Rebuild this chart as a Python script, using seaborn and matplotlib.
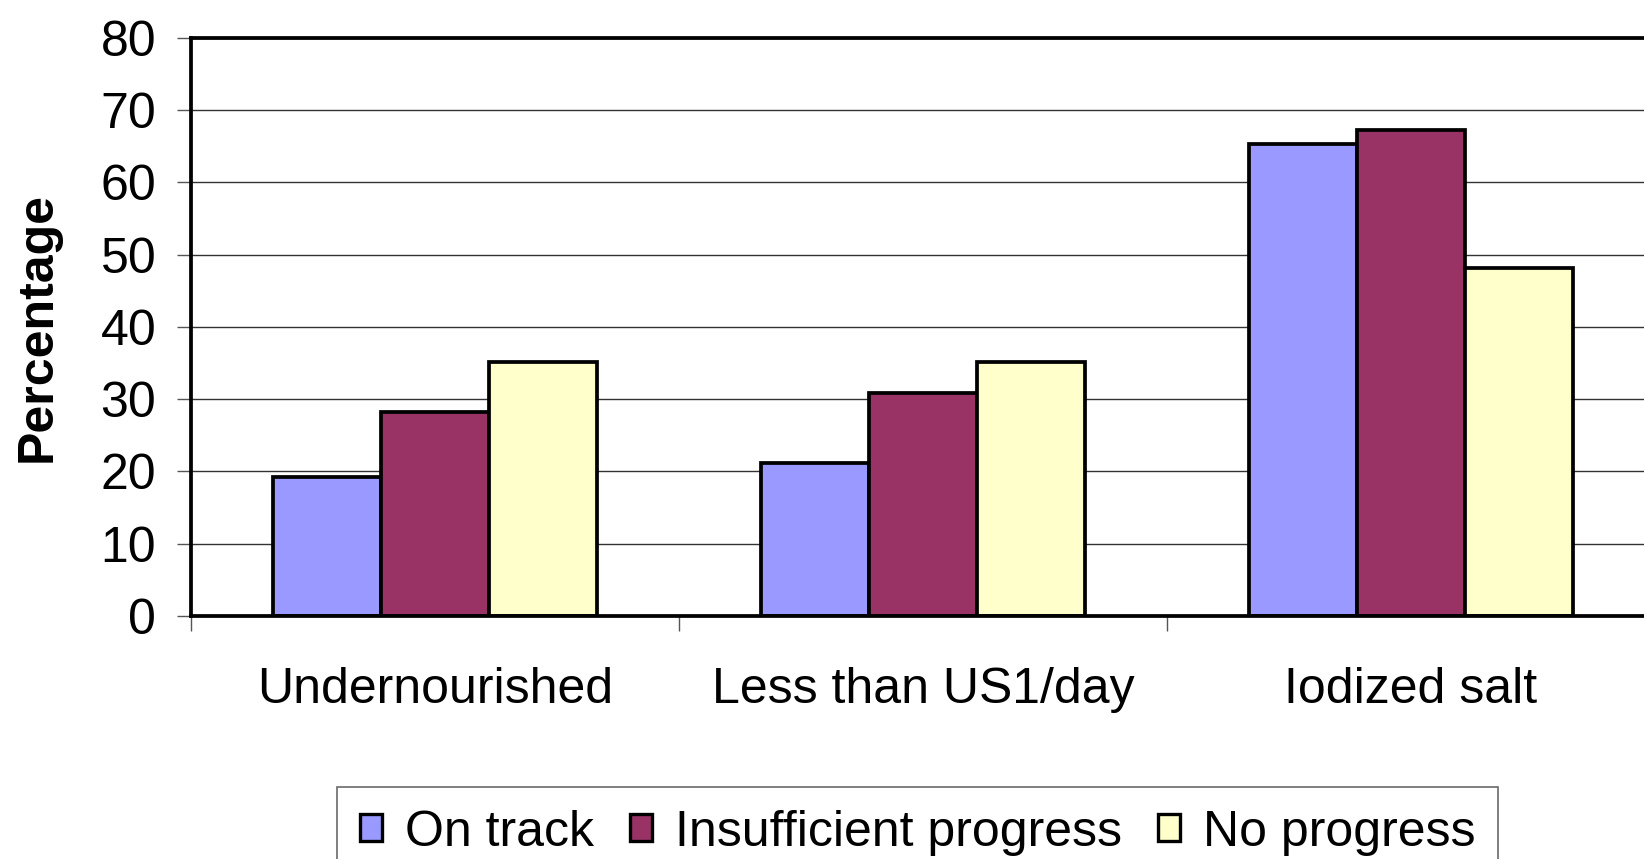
import numpy as np
import pandas as pd
import matplotlib
matplotlib.use('Agg')
import matplotlib.pyplot as plt
import seaborn as sns
from matplotlib.patches import Patch

categories = ['Undernourished', 'Less than US1/day', 'Iodized salt']
series = ['On track', 'Insufficient progress', 'No progress']
on_track = [19.2, 21.2, 65.3]
insufficient = [28.2, 30.8, 67.2]
no_progress = [35.1, 35.1, 48.1]
colors = ['#9999FF', '#993366', '#FFFFCC']
yticks = [0, 10, 20, 30, 40, 50, 60, 70, 80]

if __name__ == "__main__":

    rows = []
    for s, vals in zip(series, [on_track, insufficient, no_progress]):
        for c, v in zip(categories, vals):
            rows.append({'category': c, 'series': s, 'value': v})
    df = pd.DataFrame(rows)

    sns.set_style('white')
    plt.rcParams['font.family'] = ['Liberation Sans', 'DejaVu Sans']
    plt.rcParams['text.color'] = 'black'
    plt.rcParams['xtick.color'] = 'black'
    plt.rcParams['ytick.color'] = 'black'
    plt.rcParams['axes.labelcolor'] = 'black'

    fig = plt.figure(figsize=(16.44, 8.59), dpi=100)
    ax = fig.add_axes([0.1162, 0.2829, 0.8905, 0.6729])

    sns.barplot(x='category', y='value', hue='series', data=df, order=categories,
                hue_order=series, palette=colors, width=0.665, gap=0,
                edgecolor='black', linewidth=2.7, saturation=1, legend=False, ax=ax)

    ax.set_xlim(-0.5, 2.5)
    ax.set_ylim(0, 80)
    ax.set_yticks(yticks)
    ax.yaxis.grid(True, color='#333333', linewidth=1.0)
    ax.set_axisbelow(True)
    for side in ['left', 'bottom', 'top']:
        ax.spines[side].set_linewidth(2.7)
        ax.spines[side].set_color('black')
    ax.spines['right'].set_visible(False)

    ax.tick_params(axis='y', labelsize=36, length=10, width=1, color='#555555',
                   labelcolor='black', direction='out', pad=15, left=True)
    ax.set_xticks([-0.5, 0.5, 1.5], minor=True)
    ax.tick_params(axis='x', which='minor', length=11, width=1, color='#555555',
                   direction='out', bottom=True)
    ax.tick_params(axis='x', which='major', length=0, labelsize=36, pad=37,
                   labelcolor='black')

    ax.set_xlabel('')
    ax.set_ylabel('Percentage', fontsize=36, fontweight='bold', labelpad=29, color='black')

    handles = [Patch(facecolor=c, edgecolor='black', linewidth=2.4) for c in colors]
    leg = fig.legend(handles, series, loc='upper center', bbox_to_anchor=(0.558, 0.0838),
                     ncol=3, fontsize=36, frameon=True, fancybox=False,
                     handlelength=0.45, handleheight=0.45, handletextpad=0.45,
                     columnspacing=0.72, borderpad=0.45, borderaxespad=0)
    leg.get_frame().set_edgecolor('#444444')
    leg.get_frame().set_linewidth(1.2)
    for t in leg.get_texts():
        t.set_color('black')

    plt.savefig('out.png', dpi=100)
    plt.close()
